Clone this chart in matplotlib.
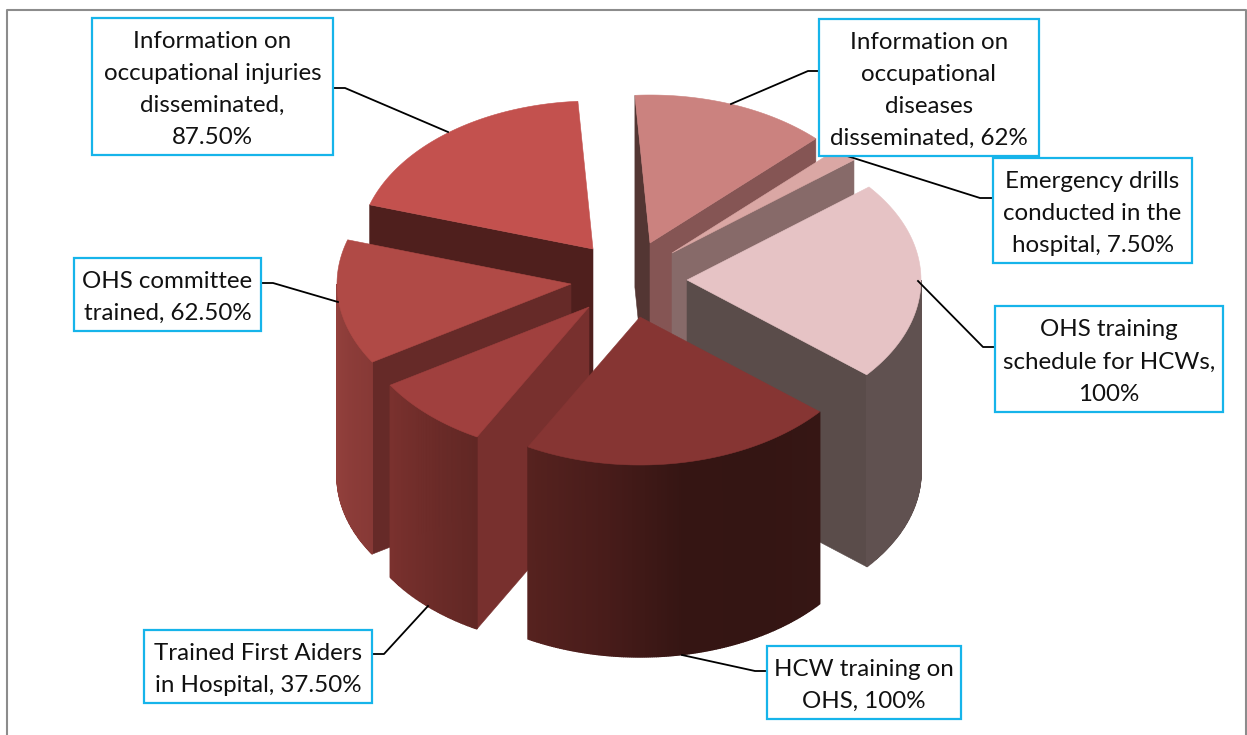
import matplotlib
matplotlib.use('Agg')
import matplotlib.pyplot as plt
from matplotlib.colors import to_rgb
from matplotlib.patches import Rectangle
import numpy as np

# chart data, clockwise from the top
values = [62, 7.5, 100, 100, 37.5, 62.5, 87.5]
labels = [
    'Information on\noccupational\ndiseases\ndisseminated, 62%',
    'Emergency drills\nconducted in the\nhospital, 7.50%',
    'OHS training\nschedule for HCWs,\n100%',
    'HCW training on\nOHS, 100%',
    'Trained First Aiders\nin Hospital, 37.50%',
    'OHS committee\ntrained, 62.50%',
    'Information on\noccupational injuries\ndisseminated,\n87.50%',
]

# look of each slice
top_colors = ['#cb827f', '#daa7a4', '#e6c3c5', '#863533', '#a0403e', '#b04a46', '#c3514e']
start_wall = ['#533633', '#876a69', '#645453', '#3a1614', '#78302e', '#662a28', '#4f1f1d']
end_wall = ['#855554', '#876a69', '#5a4c4a', '#3a1614', '#78302e', '#662a28', '#4f1f1d']
# outer face colours, left to right
side_colors = [
    ['#533633'], ['#876a69'], ['#605150'],
    ['#56221f', '#481c1a', '#351513', '#341513', '#361614'],
    ['#7a312e', '#612724'], ['#94413d', '#873936'], ['#4f1f1d'],
]

# pie layout in pixels
center = (640, 265)
rx, ry = 234, 148
depth = 192
start_angle = -3.7
explode = [(10, -22), (32, -12), (47, 15), (0, 52), (-51, 42), (-69, 19), (-47, -16)]
draw_order = [6, 0, 1, 5, 2, 4, 3]

# callouts: box left, top, right, bottom, then the leader line
boxes = [(819, 19, 1039, 156), (993, 158, 1192, 263), (995, 306, 1223, 412),
         (767, 646, 961, 719), (144, 630, 372, 703), (74, 258, 261, 331), (92, 18, 333, 155)]
leaders = [
    [(819, 71), (808, 71), (731, 104)],
    [(993, 198), (980, 198), (844, 155)],
    [(995, 347), (983, 347), (918, 281)],
    [(767, 671), (755, 671), (682, 655)],
    [(372, 654), (384, 654), (428, 606)],
    [(261, 283), (273, 283), (338, 302)],
    [(333, 88), (345, 88), (448, 132)],
]

plt.rcParams['font.family'] = ['Lato', 'DejaVu Sans']


def rim(ox, oy, deg):
    # deg runs clockwise from 12 o'clock
    t = np.radians(deg)
    return ox + rx * np.sin(t), oy - ry * np.cos(t)


def gradient(stops, n):
    stops = np.array([to_rgb(s) for s in stops])
    pos = np.linspace(0, 1, len(stops))
    f = np.linspace(0, 1, max(n, 1))
    return [tuple(np.interp(x, pos, stops[:, k]) for k in range(3)) for x in f]


def wall(ax, xs, ys, color, zorder, lw=0.4):
    px = list(xs) + list(xs)[::-1]
    py = list(ys) + [y + depth for y in list(ys)[::-1]]
    ax.fill(px, py, color=color, lw=lw, zorder=zorder)


fig = plt.figure(figsize=(12.47, 7.35), dpi=100)
ax = fig.add_axes([0, 0, 1, 1])
ax.set_xlim(0, 1247)
ax.set_ylim(735, 0)
ax.axis('off')

# chart frame, the bottom edge is cut off
ax.plot([7, 7, 1246, 1246], [735, 10, 10, 735], color='#8c8c8c', lw=1.5, zorder=1)

sweeps = np.array(values) / sum(values) * 360
ends = start_angle + np.cumsum(sweeps)
starts = ends - sweeps

z = 2
for i in draw_order:
    ox = center[0] + explode[i][0]
    oy = center[1] + explode[i][1]
    a0, a1 = starts[i], ends[i]

    # flat cut faces, only where they look towards the viewer
    x0, y0 = rim(ox, oy, a0)
    x1, y1 = rim(ox, oy, a1)
    if x0 < ox:
        wall(ax, [ox, x0], [oy, y0], start_wall[i], z)
    if x1 > ox:
        wall(ax, [ox, x1], [oy, y1], end_wall[i], z)
    z += 1

    # curved outer face, front half only
    lo = max(a0, 90)
    hi = min(a1, 270)
    if hi > lo:
        edges = np.linspace(lo, hi, int(hi - lo) * 2 + 2)
        ex, ey = rim(ox, oy, edges)
        # edges run right to left, the colours left to right
        cols = gradient(side_colors[i], len(edges) - 1)[::-1]
        for k in range(len(edges) - 1):
            wall(ax, ex[k:k + 2], ey[k:k + 2], cols[k], z, lw=1.0)
    z += 1

    # top face
    arc = np.linspace(a0, a1, 120)
    tx, ty = rim(ox, oy, arc)
    ax.fill(np.r_[ox, tx], np.r_[oy, ty], color=top_colors[i], lw=0.4, zorder=z)
    z += 1

# callouts on top of the pie
for label, (l, t, r, b), line in zip(labels, boxes, leaders):
    ax.plot(*zip(*line), color='black', lw=1.3, zorder=50, solid_joinstyle='round')
    ax.add_patch(Rectangle((l, t), r - l, b - t, fc='white', ec='#16b4ea', lw=1.6, zorder=51))
    ax.text((l + r) / 2, (t + b) / 2 + 3, label, ha='center', va='center', fontsize=17.4,
            color='#111111', linespacing=1.65, zorder=52)

fig.savefig('out.png', dpi=100)
plt.close(fig)
